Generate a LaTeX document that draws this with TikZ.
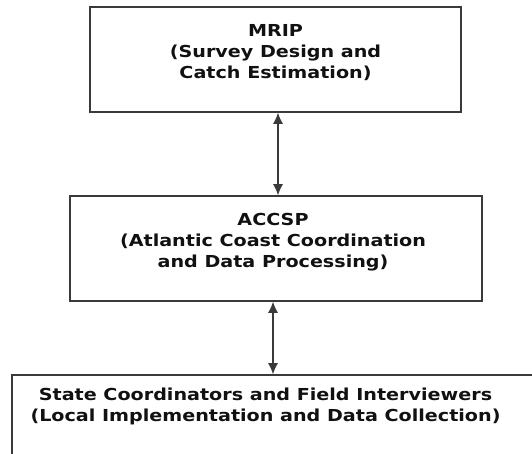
\documentclass[tikz,border=0pt]{standalone}
\usepackage{fontspec}
\setmainfont[FakeStretch=1.16]{DejaVu Sans}
\usetikzlibrary{arrows.meta}
\definecolor{edge}{HTML}{3A3A3A}
\definecolor{ink}{HTML}{111111}
\begin{document}
\begin{tikzpicture}[x=1pt,y=1pt,
  boxstyle/.style={draw=edge,line width=1.6pt,rectangle,inner sep=0pt},
  labelstyle/.style={align=center,text=ink,font=\bfseries\fontsize{16.5}{21}\selectfont,inner sep=0pt},
  link/.style={draw=edge,line width=1.1pt,{Latex[length=11pt,width=10pt]}-{Latex[length=11pt,width=10pt]}}]
\useasboundingbox (0,0) rectangle (532,-453);
\clip (0,0) rectangle (532,-453);
\fill[white] (0,0) rectangle (532,-453);
\node[boxstyle,minimum width=371pt,minimum height=105pt] (mrip) at (275.5,-59.5) {};
\node[boxstyle,minimum width=412pt,minimum height=105pt] (accsp) at (276,-248.5) {};
\node[boxstyle,minimum width=540pt,minimum height=105pt] (state) at (282,-427.5) {};
\node[labelstyle,anchor=north] (mript) at (275.5,-24) {MRIP\\(Survey Design and\\Catch Estimation)};
\node[labelstyle,anchor=north] (accspt) at (273,-213) {ACCSP\\(Atlantic Coast Coordination\\and Data Processing)};
\node[labelstyle,anchor=north] (statet) at (265.5,-388) {State Coordinators and Field Interviewers\\(Local Implementation and Data Collection)};
\coordinate (a1) at (278,0);
\coordinate (a2) at (273,0);
\draw[link] (mrip.south -| a1) -- (accsp.north -| a1);
\draw[link] (accsp.south -| a2) -- (state.north -| a2);
\end{tikzpicture}
\end{document}
